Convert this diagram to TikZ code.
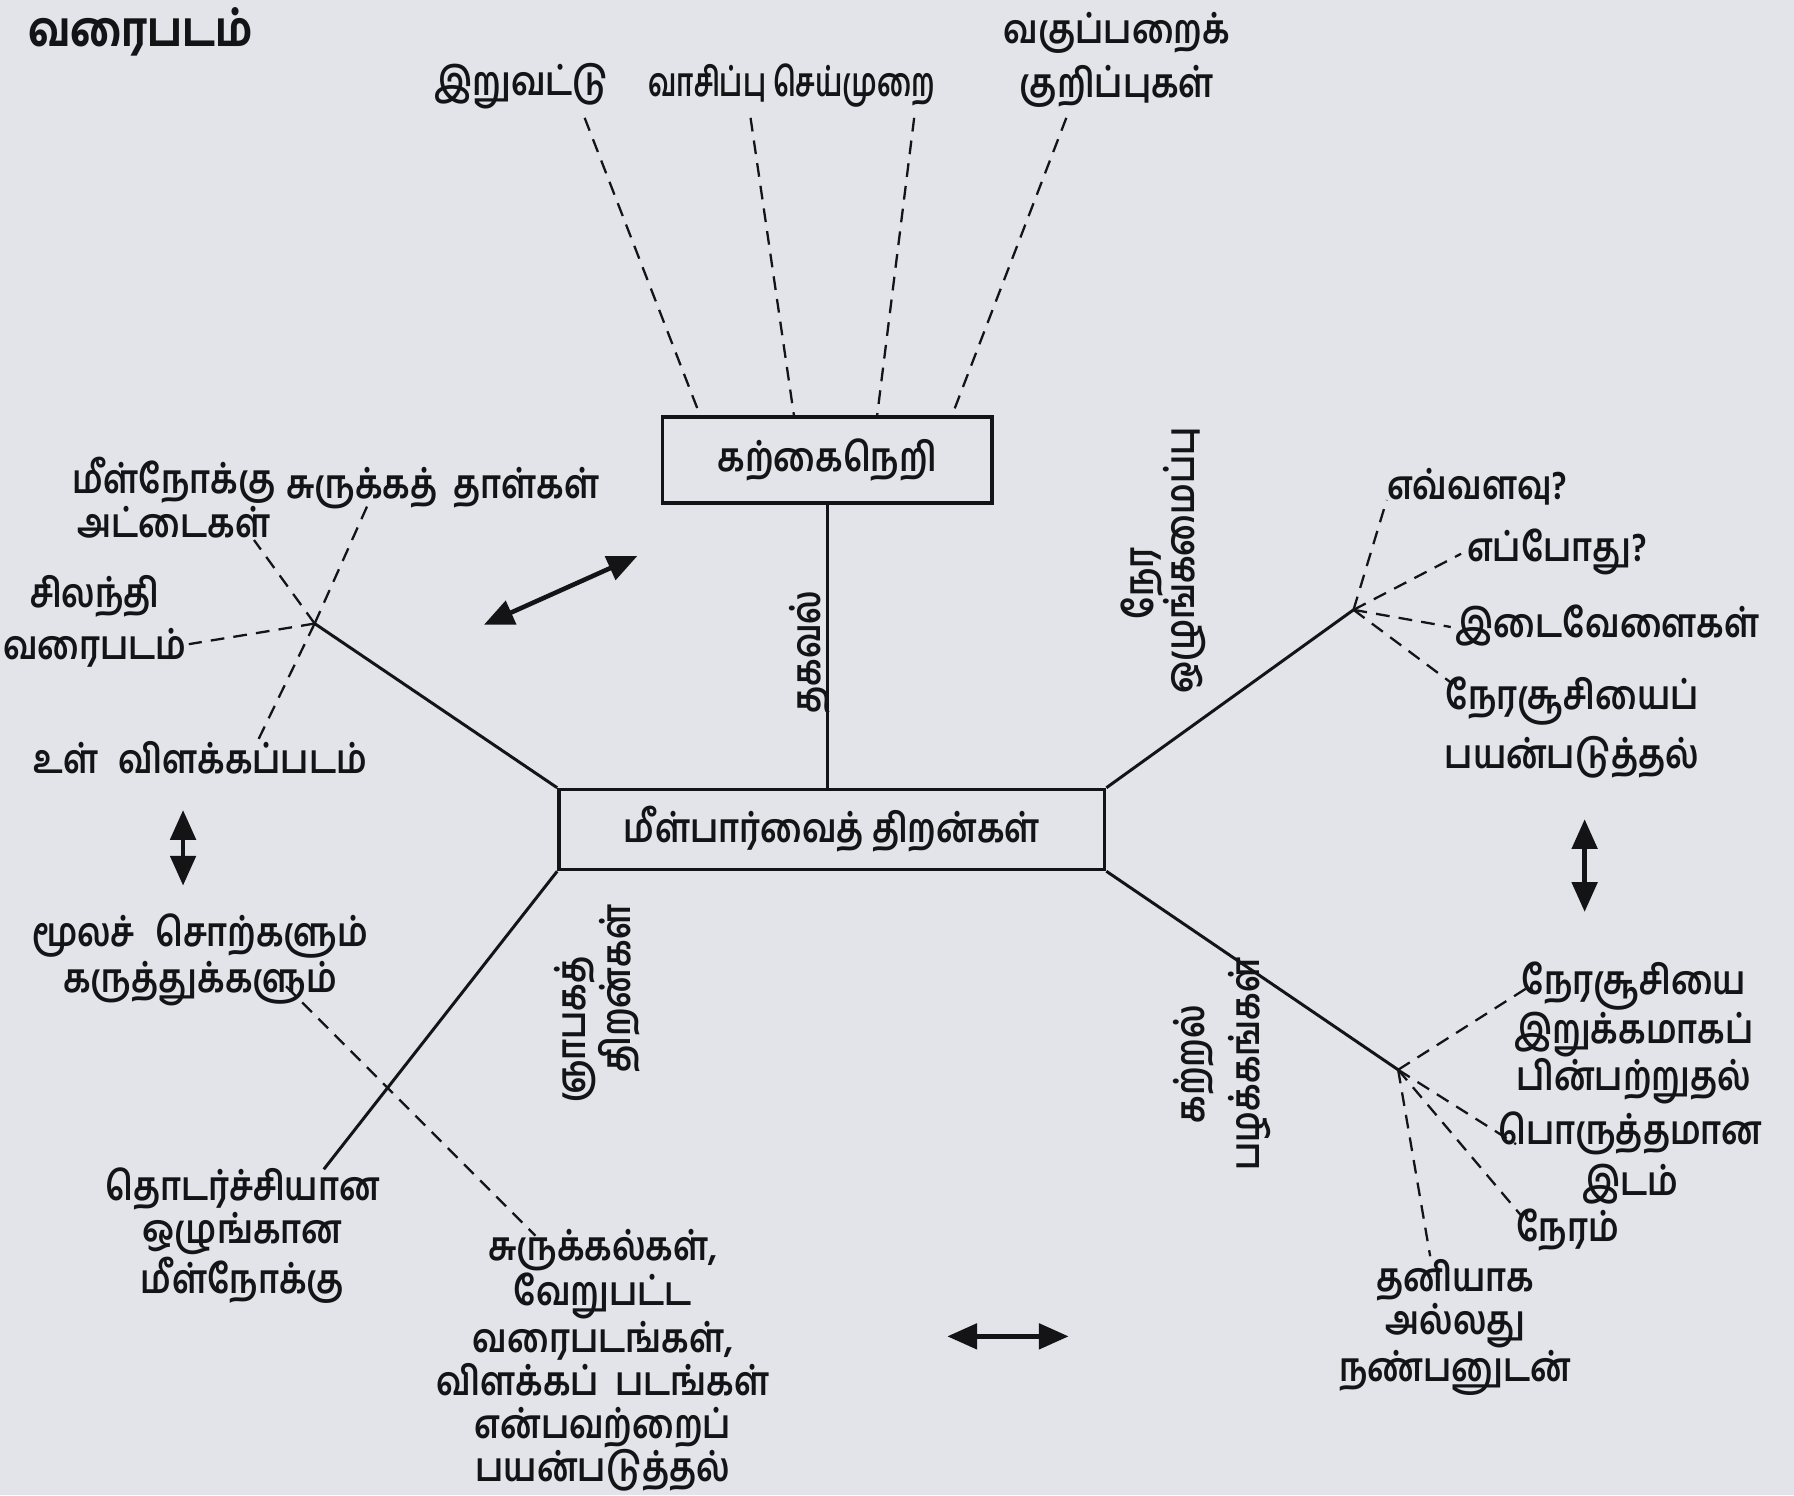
\documentclass[tikz,border=0pt]{standalone}
\usepackage{fontspec}
\newfontfamily\tamil[Script=Tamil, FakeStretch=0.84]{Hind Madurai SemiBold}
\newfontfamily\tamilb[Script=Tamil, FakeStretch=0.84]{Hind Madurai Bold}
\usetikzlibrary{arrows.meta,calc}
\definecolor{bgc}{RGB}{226,228,234}
\definecolor{ink}{RGB}{20,20,22}
\begin{document}
\begin{tikzpicture}[x=0.5pt,y=-0.5pt,
  lbl/.style={font=\tamil\fontsize{17.5}{18}\selectfont, text=ink, inner sep=0pt, align=center},
  rot/.style={lbl, rotate=90},
  boxn/.style={draw=ink, line width=1.5pt, lbl},
  dsh/.style={draw=ink, line width=1pt, dash pattern=on 6pt off 4pt},
  br/.style={draw=ink, line width=1.3pt},
  dbl/.style={draw=ink, line width=2pt, {Triangle[length=13pt,width=11pt]}-{Triangle[length=13pt,width=11pt]}}
]
\fill[bgc] (0,0) rectangle (1568,1307);
\useasboundingbox (0,0) rectangle (1568,1307);

% title
\node[lbl, font=\tamilb\fontsize{21}{18}\selectfont] (title) at (123,28) {வரைபடம்};

% boxes
\node[boxn, minimum width=144pt, minimum height=37.5pt] (kn) at (723,402) {கற்கைநெறி};
\node[boxn, minimum width=238.5pt, minimum height=35pt] (mp) at (727,725) {மீள்பார்வைத் திறன்கள்};
\draw[br] (kn.south) -- (kn.south |- mp.north);
\node[rot] (thakaval) at (708,570) {தகவல்};

% top labels
\node[lbl] (t1) at (456,75) {இறுவட்டு};
\node[lbl, xscale=0.82, transform shape] (t2) at (692,75) {வாசிப்பு செய்முறை};
\node[lbl, font=\tamil\fontsize{17.5}{23.5}\selectfont] (t3) at (976,52) {வகுப்பறைக்\\குறிப்புகள்};
\coordinate (t1e) at (511,103);
\coordinate (t2e) at (656,103);
\coordinate (t3e) at (799,103);
\coordinate (t4e) at (932,103);
\draw[dsh] (t1e) -- ($(kn.north west)!0.118!(kn.north east)$);
\draw[dsh] (t2e) -- ($(kn.north west)!0.40!(kn.north east)$);
\draw[dsh] (t3e) -- ($(kn.north west)!0.65!(kn.north east)$);
\draw[dsh] (t4e) -- ($(kn.north west)!0.875!(kn.north east)$);

% hubs
\coordinate (hubUL) at (275,545);
\coordinate (hubUR) at (1183,533);
\coordinate (hubLR) at (1222,935);
\coordinate (endLL) at (283,1022);
\draw[br] (mp.north west) -- (hubUL);
\draw[br] (mp.north east) -- (hubUR);
\draw[br] (mp.south east) -- (hubLR);
\draw[br] (mp.south west) -- (endLL);

% upper left
\node[lbl] (ul1) at (152,435) {மீள்நோக்கு\\அட்டைகள்};
\node[lbl] (ul2) at (387,427) {சுருக்கத்\hspace{7pt}தாள்கள்};
\node[lbl, font=\tamil\fontsize{17.5}{22.5}\selectfont] (ul3) at (83,543) {சிலந்தி\\வரைபடம்};
\node[lbl] (ul4) at (175,662) {உள்\hspace{9pt}விளக்கப்படம்};
\coordinate (ul1e) at (222,472);
\coordinate (ul2e) at (322,440);
\coordinate (ul3e) at (165,563);
\coordinate (ul4e) at (226,646);
\draw[dsh] (hubUL) -- (ul1e);
\draw[dsh] (hubUL) -- (ul2e);
\draw[dsh] (hubUL) -- (ul3e);
\draw[dsh] (hubUL) -- (ul4e);

\coordinate (da1) at (423,546);
\coordinate (da2) at (557,486);
\draw[dbl] (da1) -- (da2);
\coordinate (la1) at (160,708);
\coordinate (la2) at (160,774);
\draw[dbl] (la1) -- (la2);

% lower left
\node[lbl] (ll1) at (175,839) {மூலச்\hspace{9pt}சொற்களும்\\கருத்துக்களும்};
\node[lbl, font=\tamil\fontsize{17.5}{16.5}\selectfont] (ll2) at (212,1080) {தொடர்ச்சியான\\ஒழுங்கான\\மீள்நோக்கு};
\node[lbl, font=\tamil\fontsize{17.5}{18.8}\selectfont] (ll3) at (527,1189) {சுருக்கல்கள்,\\வேறுபட்ட\\வரைபடங்கள்,\\விளக்கப்\hspace{7pt}படங்கள்\\என்பவற்றைப்\\பயன்படுத்தல்};
\node[rot] (gnapakam) at (522,882) {ஞாபகத்\hspace*{18pt}\\\hspace*{18pt}திறன்கள்};
\coordinate (ll1e) at (250,862);
\coordinate (ll3e) at (468,1080);
\draw[dsh] (ll1e) -- (ll3e);
\coordinate (ha1) at (828,1168);
\coordinate (ha2) at (934,1168);
\draw[dbl] (ha1) -- (ha2);

% upper right
\node[lbl, anchor=west] (ur1) at (1212,425) {எவ்வளவு?};
\node[lbl, anchor=west] (ur2) at (1282,482) {எப்போது?};
\node[lbl, anchor=west] (ur3) at (1272,547) {இடைவேளைகள்};
\node[lbl, font=\tamil\fontsize{17.5}{26}\selectfont] (ur4) at (1374,636) {நேரசூசியைப்\\பயன்படுத்தல்};
\coordinate (ur1e) at (1212,437);
\coordinate (ur2e) at (1277,484);
\coordinate (ur3e) at (1268,548);
\coordinate (ur4e) at (1270,598);
\draw[dsh] (hubUR) -- (ur1e);
\draw[dsh] (hubUR) -- (ur2e);
\draw[dsh] (hubUR) -- (ur3e);
\draw[dsh] (hubUR) -- (ur4e);
\node[rot] (nera) at (1017,490) {நேர\hspace*{20pt}\\ஒழுங்கமைப்பு};
\coordinate (ra1) at (1385,716);
\coordinate (ra2) at (1385,797);
\draw[dbl] (ra1) -- (ra2);

% lower right
\node[lbl, font=\tamil\fontsize{17.5}{20.5}\selectfont] (lr1) at (1428,903) {நேரசூசியை\\இறுக்கமாகப்\\பின்பற்றுதல்};
\node[lbl, font=\tamil\fontsize{17.5}{22.5}\selectfont] (lr2) at (1425,1012) {பொருத்தமான\\இடம்};
\node[lbl] (lr3) at (1370,1075) {நேரம்};
\node[lbl, font=\tamil\fontsize{17.5}{18.8}\selectfont] (lr4) at (1272,1160) {தனியாக\\அல்லது\\நண்பனுடன்};
\coordinate (lr1e) at (1337,862);
\coordinate (lr2e) at (1325,1000);
\coordinate (lr3e) at (1330,1063);
\coordinate (lr4e) at (1250,1098);
\draw[dsh] (hubLR) -- (lr1e);
\draw[dsh] (hubLR) -- (lr2e);
\draw[dsh] (hubLR) -- (lr3e);
\draw[dsh] (hubLR) -- (lr4e);
\node[rot, font=\tamil\fontsize{17.5}{24}\selectfont] (katral) at (1068,930) {கற்றல்\\பழக்கங்கள்};
\end{tikzpicture}
\end{document}
